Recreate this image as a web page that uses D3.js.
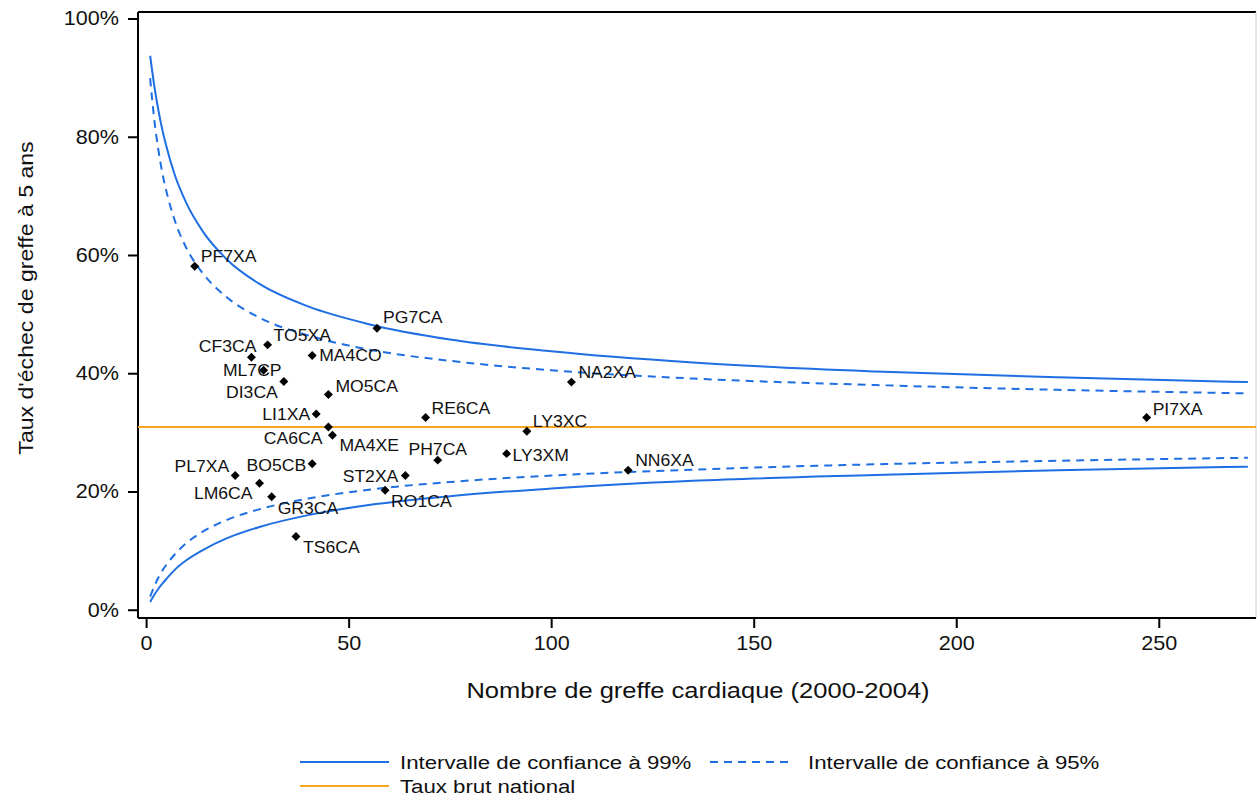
<!DOCTYPE html>
<html>
<head>
<meta charset="utf-8">
<script src="https://cdn.jsdelivr.net/npm/d3@7"></script>
<style>
  body { margin: 0; background: #fff; }
  svg { display: block; font-family: "Liberation Sans", Arial, sans-serif; }
</style>
</head>
<body>
<svg id="chart" width="1257" height="798"></svg>
<script>
// centres: name, number of heart transplants 2000-2004, 5-year graft failure rate
const centres = ["PF7XA","PG7CA","TO5XA","CF3CA","MA4CO","ML7CP","DI3CA","MO5CA","LI1XA","RE6CA",
                 "CA6CA","MA4XE","PH7CA","BO5CB","PL7XA","LM6CA","GR3CA","ST2XA","RO1CA","TS6CA",
                 "NA2XA","LY3XC","LY3XM","NN6XA","PI7XA"];
const greffes = [12, 57, 30, 26, 41, 29, 34, 45, 42, 69,
                 45, 46, 72, 41, 22, 28, 31, 64, 59, 37,
                 105, 94, 89, 119, 247];
const taux = [0.581, 0.476, 0.448, 0.427, 0.430, 0.405, 0.386, 0.364, 0.331, 0.325,
              0.309, 0.295, 0.253, 0.247, 0.227, 0.214, 0.191, 0.227, 0.202, 0.124,
              0.385, 0.302, 0.264, 0.236, 0.325];

const tauxNational = 0.309;

// funnel limits
const nGrid   = [1, 2, 3, 4, 5, 7, 10, 14, 20, 28, 40, 55, 75, 100, 135, 180, 225, 272];
const upper99 = [0.937, 0.887, 0.846, 0.812, 0.784, 0.737, 0.687, 0.640, 0.592, 0.551, 0.513, 0.483, 0.457, 0.437, 0.418, 0.403, 0.393, 0.385];
const lower99 = [0.013, 0.025, 0.035, 0.044, 0.052, 0.067, 0.084, 0.101, 0.121, 0.140, 0.160, 0.177, 0.192, 0.205, 0.218, 0.228, 0.236, 0.242];
const upper95 = [0.899, 0.830, 0.779, 0.739, 0.708, 0.660, 0.611, 0.569, 0.528, 0.494, 0.464, 0.440, 0.421, 0.405, 0.391, 0.380, 0.372, 0.366];
const lower95 = [0.022, 0.039, 0.054, 0.066, 0.076, 0.093, 0.113, 0.132, 0.152, 0.170, 0.188, 0.203, 0.216, 0.227, 0.237, 0.246, 0.252, 0.257];

const xTicks = [0, 50, 100, 150, 200, 250];
const yTicks = [0, 0.2, 0.4, 0.6, 0.8, 1.0];

// label placement: [dx, dy, anchor]
const labelPos = {
  PF7XA: [6, -4, "start"], PG7CA: [6, -5, "start"], TO5XA: [6, -4, "start"],
  CF3CA: [5, -5, "end"],   MA4CO: [7, 6, "start"],  ML7CP: [18, 6, "end"],
  DI3CA: [-6, 16, "end"],  MO5CA: [7, -3, "start"], LI1XA: [-6, 6, "end"],
  RE6CA: [6, -4, "start"], CA6CA: [-6, 17, "end"],  MA4XE: [7, 16, "start"],
  PH7CA: [0, -5, "middle"], BO5CB: [-6, 7, "end"],  PL7XA: [-6, -4, "end"],
  LM6CA: [-7, 16, "end"],  GR3CA: [6, 17, "start"], ST2XA: [-7, 6, "end"],
  RO1CA: [6, 17, "start"], TS6CA: [7, 17, "start"], NA2XA: [7, -4, "start"],
  LY3XC: [6, -4, "start"], LY3XM: [6, 7, "start"],  NN6XA: [7, -4, "start"],
  PI7XA: [6, -3, "start"]
};

const blue = "#1f6fe3", orange = "#f5a51e";

const svg = d3.select("#chart");
const mLeft = 138, mRight = 1256, mTop = 12, mBottom = 618;

const x = d3.scaleLinear().domain([-2, 274]).range([mLeft, mRight]);
const y = d3.scaleLinear().domain([-0.014, 1.011]).range([mBottom, mTop]);

// the original's text is a little wide: stretch it horizontally around its anchor
function stretch(sel, sx) {
  sel.each(function() {
    const t = d3.select(this);
    const tx = +t.attr("x") || 0, ty = +t.attr("y") || 0;
    const rot = t.attr("data-rot");
    t.attr("x", 0).attr("y", 0)
     .attr("transform", `translate(${tx},${ty})` + (rot ? ` rotate(${rot})` : "") + ` scale(${sx},1)`);
  });
}

// frame
svg.append("line").attr("x1", mLeft).attr("x2", mRight).attr("y1", mTop).attr("y2", mTop)
   .attr("stroke", "#000").attr("stroke-width", 2);
svg.append("line").attr("x1", mRight).attr("x2", mRight).attr("y1", mTop).attr("y2", mBottom)
   .attr("stroke", "#ccc").attr("stroke-width", 1);

// axes
const yAxis = svg.append("g").attr("transform", `translate(${mLeft},0)`)
  .call(d3.axisLeft(y).tickValues(yTicks).tickFormat(d3.format(".0%")).tickSize(10).tickPadding(9));
const xAxis = svg.append("g").attr("transform", `translate(0,${mBottom})`)
  .call(d3.axisBottom(x).tickValues(xTicks).tickFormat(d3.format("d")).tickSize(10).tickPadding(8));
[yAxis, xAxis].forEach(g => {
  g.select(".domain").attr("stroke", "#000").attr("stroke-width", 2);
  g.selectAll(".tick line").attr("stroke", "#000").attr("stroke-width", 2);
  g.selectAll(".tick text").attr("font-size", 20).attr("fill", "#111")
   .attr("font-family", "Liberation Sans, Arial, sans-serif").call(stretch, 1.08);
});
yAxis.select(".domain").attr("d", `M0,${mTop}V${mBottom}`);
xAxis.select(".domain").attr("d", `M${mLeft},0H${mRight}`);

// axis titles
svg.append("text").attr("x", 33).attr("y", 298).attr("data-rot", -90)
   .attr("text-anchor", "middle").attr("font-size", 21).attr("fill", "#111")
   .text("Taux d'échec de greffe à 5 ans").call(stretch, 1.1);
svg.append("text").attr("x", 698).attr("y", 698)
   .attr("text-anchor", "middle").attr("font-size", 22).attr("fill", "#111")
   .text("Nombre de greffe cardiaque (2000-2004)").call(stretch, 1.16);

// national rate
svg.append("line").attr("x1", mLeft).attr("x2", mRight)
   .attr("y1", y(tauxNational)).attr("y2", y(tauxNational))
   .attr("stroke", orange).attr("stroke-width", 2);

// funnel limits
const line = d3.line().x(d => x(d[0])).y(d => y(d[1])).curve(d3.curveMonotoneX);
const limits = [
  { values: upper99, dash: null }, { values: lower99, dash: null },
  { values: upper95, dash: "8,6" }, { values: lower95, dash: "8,6" }
];
limits.forEach(l => {
  svg.append("path")
     .attr("d", line(nGrid.map((n, i) => [n, l.values[i]])))
     .attr("fill", "none").attr("stroke", blue).attr("stroke-width", 2)
     .attr("stroke-dasharray", l.dash);
});

// centres
const pts = centres.map((c, i) => ({ name: c, n: greffes[i], r: taux[i] }));
svg.append("g").selectAll("path").data(pts).enter().append("path")
   .attr("d", d3.symbol(d3.symbolSquare, 40))
   .attr("transform", d => `translate(${x(d.n)},${y(d.r)}) rotate(45)`)
   .attr("fill", "#000");
svg.append("g").selectAll("text").data(pts).enter().append("text")
   .attr("x", d => x(d.n) + labelPos[d.name][0])
   .attr("y", d => y(d.r) + labelPos[d.name][1])
   .attr("text-anchor", d => labelPos[d.name][2])
   .attr("font-size", 16).attr("fill", "#111")
   .text(d => d.name).call(stretch, 1.1);

// legend
const legend = [
  { label: "Intervalle de confiance à 99%", color: blue, dash: null, lx: 300, ly: 762 },
  { label: "Intervalle de confiance à 95%", color: blue, dash: "8,6", lx: 710, ly: 762 },
  { label: "Taux brut national", color: orange, dash: null, lx: 300, ly: 786 }
];
legend.forEach(d => {
  svg.append("line").attr("x1", d.lx).attr("x2", d.lx + (d.dash ? 78 : 89)).attr("y1", d.ly).attr("y2", d.ly)
     .attr("stroke", d.color).attr("stroke-width", 2).attr("stroke-dasharray", d.dash);
  svg.append("text").attr("x", d.lx + (d.dash ? 98 : 100)).attr("y", d.ly + 7)
     .attr("font-size", 19).attr("fill", "#111").text(d.label).call(stretch, 1.17);
});
</script>
</body>
</html>
